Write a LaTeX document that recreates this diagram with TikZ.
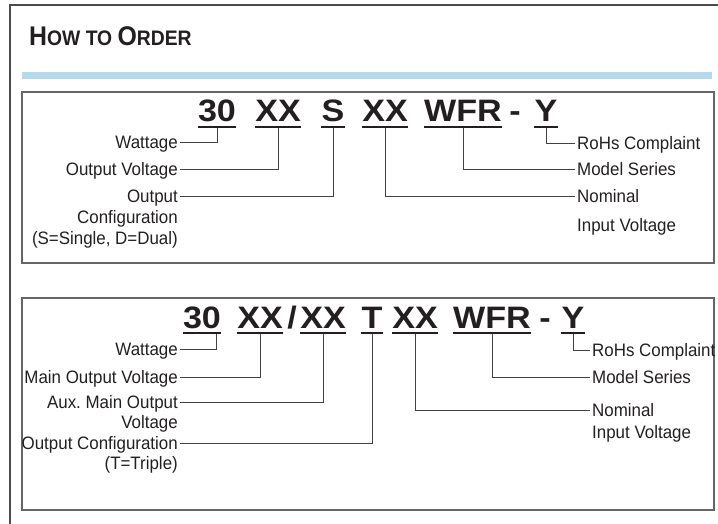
\documentclass[tikz,border=0pt]{standalone}
\usepackage{fontspec}
\setmainfont{Liberation Sans}
\newfontfamily\tagfont{Liberation Sans}[FakeStretch=0.94]
\newfontfamily\codefont{Liberation Sans}[FakeStretch=1.1]
\newfontfamily\headfont{Liberation Sans}[FakeStretch=0.92]
\usetikzlibrary{calc}
\definecolor{barblue}{RGB}{180,216,236}
\definecolor{ink}{RGB}{35,31,32}
\tikzset{
codepart/.style={font=\codefont\bfseries\fontsize{31}{31}\selectfont,inner sep=0pt,text depth=0pt,anchor=base,text=ink},
tag/.style={font=\tagfont\fontsize{18}{21}\selectfont,inner xsep=2pt,inner ysep=0pt,text height=13pt,text depth=0pt,anchor=east,text=ink},
rtag/.style={tag,anchor=west},
lead/.style={line width=0.8pt,draw=ink!85},
uline/.style={line width=2.2pt,draw=ink},
panel/.style={line width=1.2pt,draw=black!60},
}
\newcommand{\uline}[1]{\draw[uline] ([yshift=-5pt]#1.south west) -- ([yshift=-5pt]#1.south east);}

\begin{document}
\begin{tikzpicture}[x=1pt,y=-1pt]
\useasboundingbox (0,0) rectangle (718,524);
% frame and title
\draw[line width=1.8pt,draw=black!70] (718,5) -- (10,5) -- (10,524);
\node[anchor=base west,inner sep=0pt,text=ink,font=\headfont\bfseries] (title) at (29,46)
  {\fontsize{27}{27}\selectfont H\fontsize{21}{27}\selectfont OW TO \fontsize{27}{27}\selectfont O\fontsize{21}{27}\selectfont RDER};
\fill[barblue] (22,72) rectangle (712,79);

% single / dual output
\draw[panel] (22,92) rectangle (714,263);
\node[codepart] (a30) at (217,122) {30};
\node[codepart] (aout) at (278,122) {XX};
\node[codepart] (acfg) at (333,122) {S};
\node[codepart] (ain) at (385,122) {XX};
\node[codepart] (awfr) at (463,122) {WFR};
\node[codepart] (adash) at (515,122) {-};
\node[codepart] (ay) at (546,122) {Y};
\foreach \p in {a30,aout,acfg,ain,awfr,ay} {\uline{\p}}

\node[tag] (awatt) at (180,142) {Wattage};
\node[tag] (avolt) at (180,169) {Output Voltage};
\node[tag] (aconf) at (180,196) {Output};
\node[tag] (aconf2) at (180,217) {Configuration};
\node[tag] (aconf3) at (180,238) {(S=Single, D=Dual)};
\node[rtag] (arohs) at (575,143) {RoHs Complaint};
\node[rtag] (amod) at (575,169) {Model Series};
\node[rtag] (anom) at (575,196) {Nominal};
\node[rtag] (anom2) at (575,225) {Input Voltage};

\draw[lead] (awatt.east) -| ([yshift=-6pt]a30.south);
\draw[lead] (avolt.east) -| ([yshift=-6pt]aout.south);
\draw[lead] (aconf.east) -| ([yshift=-6pt]acfg.south);
\draw[lead] (arohs.west) -| ([yshift=-6pt]ay.south);
\draw[lead] (amod.west) -| ([yshift=-6pt]awfr.south);
\draw[lead] (anom.west) -| ([yshift=-6pt]ain.south);

% triple output
\draw[panel] (22,298) rectangle (714,510);
\node[codepart] (b30) at (202,328) {30};
\node[codepart] (bout) at (260,328) {XX};
\node[codepart] (bslash) at (292,328) {/};
\node[codepart] (baux) at (323,328) {XX};
\node[codepart] (bcfg) at (372,328) {T};
\node[codepart] (bin) at (415,328) {XX};
\node[codepart] (bwfr) at (492,328) {WFR};
\node[codepart] (bdash) at (545,328) {-};
\node[codepart] (by) at (573,328) {Y};
\foreach \p in {b30,bout,baux,bcfg,bin,bwfr,by} {\uline{\p}}

\node[tag] (bwatt) at (180,349) {Wattage};
\node[tag] (bvolt) at (180,377) {Main Output Voltage};
\node[tag] (baux1) at (180,402) {Aux.\ Main Output};
\node[tag] (baux2) at (180,422) {Voltage};
\node[tag] (bconf) at (180,443) {Output Configuration};
\node[tag] (bconf2) at (180,463) {(T=Triple)};
\node[rtag] (brohs) at (590,350) {RoHs Complaint};
\node[rtag] (bmod) at (590,377) {Model Series};
\node[rtag] (bnom) at (590,410) {Nominal};
\node[rtag] (bnom2) at (590,432) {Input Voltage};

\draw[lead] (bwatt.east) -| ([xshift=14pt,yshift=-6pt]b30.south);
\draw[lead] (bvolt.east) -| ([yshift=-6pt]bout.south);
\draw[lead] (baux1.east) -| ([yshift=-6pt]baux.south);
\draw[lead] (bconf.east) -| ([yshift=-6pt]bcfg.south);
\draw[lead] (brohs.west) -| ([yshift=-6pt]by.south);
\draw[lead] (bmod.west) -| ([yshift=-6pt]bwfr.south);
\draw[lead] (bnom.west) -| ([yshift=-6pt]bin.south);
\end{tikzpicture}
\end{document}
